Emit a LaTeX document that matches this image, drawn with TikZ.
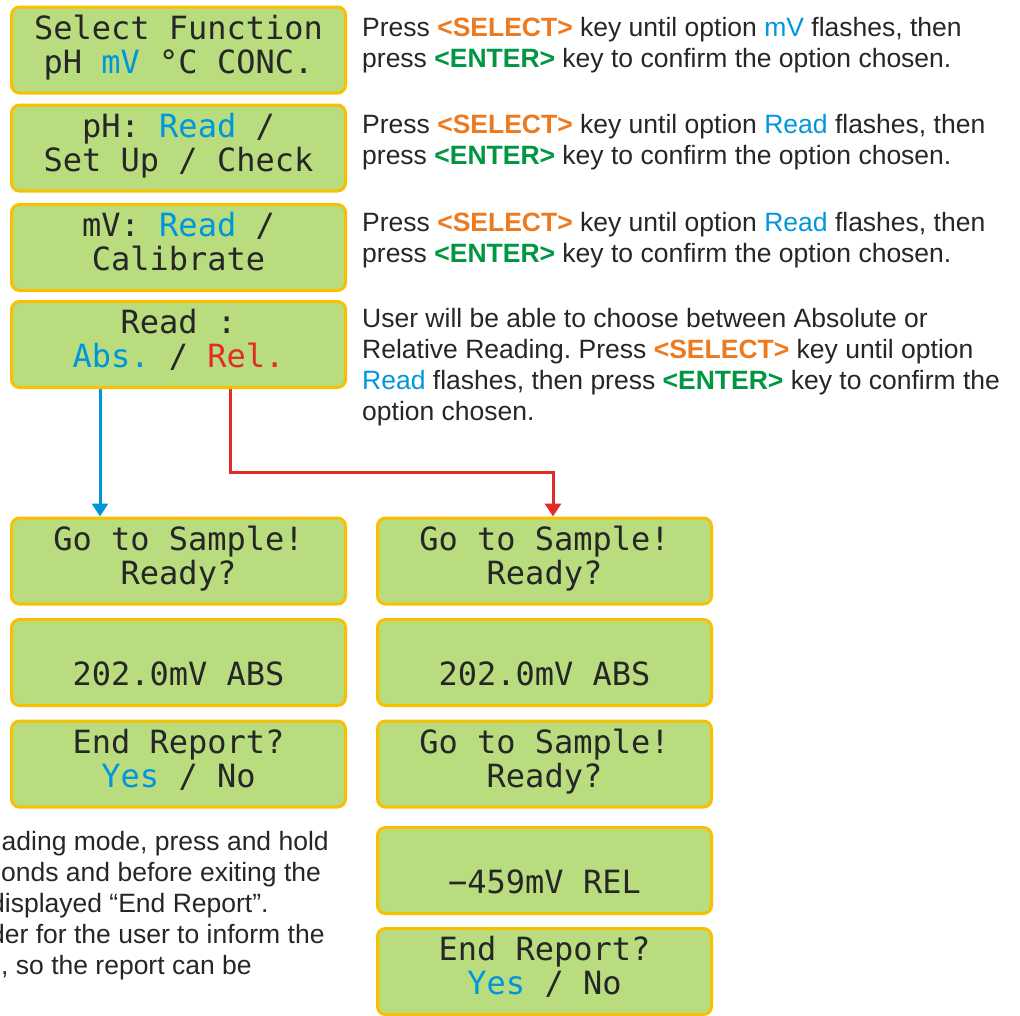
\documentclass[tikz,border=0pt]{standalone}
\usepackage{fontspec}
\setmainfont{Liberation Sans}
\newfontfamily\lcdfont{DejaVu Sans Mono}
\usetikzlibrary{arrows.meta,calc,backgrounds}
\frenchspacing

\definecolor{lcdgreen}{RGB}{185,220,126}
\definecolor{lcdframe}{RGB}{248,192,0}
\definecolor{lcdblue}{RGB}{0,150,220}
\definecolor{lcdred}{RGB}{226,44,38}
\definecolor{keyorange}{RGB}{238,122,32}
\definecolor{keygreen}{RGB}{0,150,66}
\newcommand{\selkey}{\textbf{\textcolor{keyorange}{<SELECT>}}}
\newcommand{\entkey}{\textbf{\textcolor{keygreen}{<ENTER>}}}
\newcommand{\optsel}[1]{\textcolor{lcdblue}{#1}}

\begin{document}
\begin{tikzpicture}[x=1pt,y=-1pt,
  lcd/.style={draw=lcdframe, line width=3pt, fill=lcdgreen, rounded corners=8pt,
    minimum width=334pt, minimum height=86pt, inner sep=0pt},
  lcdtext/.style={font=\lcdfont\fontsize{32}{34}\selectfont, text=black!85, anchor=base, inner sep=0pt},
  note/.style={font=\fontsize{26.5}{31}\selectfont, text=black!85, anchor=base west, align=left, inner sep=0pt},
  flow/.style={line width=3pt, -{Triangle[length=13pt,width=16pt]}}]
\useasboundingbox (0,0) rectangle (1020,1015);
\clip (0,0) rectangle (1020,1015);
% LCD screens: name / centre / first line / second line
\foreach \n/\x/\y/\la/\lb in {
  sel/178.5/50/{Select Function}/{pH \optsel{mV} °C CONC.},
  phm/178.5/148/{pH: \optsel{Read} /}/{Set Up / Check},
  mvm/178.5/247.5/{mV: \optsel{Read} /}/{Calibrate},
  rdm/178.5/344.5/{Read :}/{\optsel{Abs.} / \textcolor{lcdred}{Rel.}},
  absA/178.5/561/{Go to Sample!}/{Ready?},
  absB/178.5/662.5/{}/{202.0mV ABS},
  absC/178.5/764/{End Report?}/{\optsel{Yes} / No},
  relA/544.5/561/{Go to Sample!}/{Ready?},
  relB/544.5/662.5/{}/{202.0mV ABS},
  relC/544.5/764/{Go to Sample!}/{Ready?},
  relD/544.5/870.5/{}/{−459mV REL},
  relE/544.5/971.5/{End Report?}/{\optsel{Yes} / No}}
{
  \node[lcd] (\n) at (\x,\y) {};
  \node[lcdtext] (\n-a) at ($(\n.center)+(0,-11)$) {\la};
  \node[lcdtext] (\n-b) at ($(\n.center)+(0,23)$) {\lb};
}
% branches to absolute / relative reading
\begin{scope}[on background layer]
\draw[flow, lcdblue] ([xshift=-78.5pt]rdm.south) -- ([xshift=-78.5pt]absA.north);
\draw[flow, lcdred] ([xshift=52pt]rdm.south) -- ++(0,83) -| ([xshift=8.5pt]relA.north);
\end{scope}
% instructions (base = last line)
\node[note] (txsel) at (362,67) {Press \selkey{} key until option \optsel{mV} flashes, then\\press \entkey{} key to confirm the option chosen.};
\node[note] (txph) at (362,164) {Press \selkey{} key until option \optsel{Read} flashes, then\\press \entkey{} key to confirm the option chosen.};
\node[note] (txmv) at (362,262) {Press \selkey{} key until option \optsel{Read} flashes, then\\press \entkey{} key to confirm the option chosen.};
\node[note] (txrd) at (362,420) {User will be able to choose between Absolute or\\Relative Reading. Press \selkey{} key until option\\\optsel{Read} flashes, then press \entkey{} key to confirm the\\option chosen.};
% note cut by the left edge
\foreach \x/\y/\t [count=\i] in {1.5/850/{ading mode, press and hold},
  1/881/{onds and before exiting the},
  -10/912/{displayed “End Report”.},
  -10/943/{der for the user to inform the},
  1/974/{, so the report can be}}
  \node[note] (frag\i) at (\x,\y) {\t};
\end{tikzpicture}
\end{document}
